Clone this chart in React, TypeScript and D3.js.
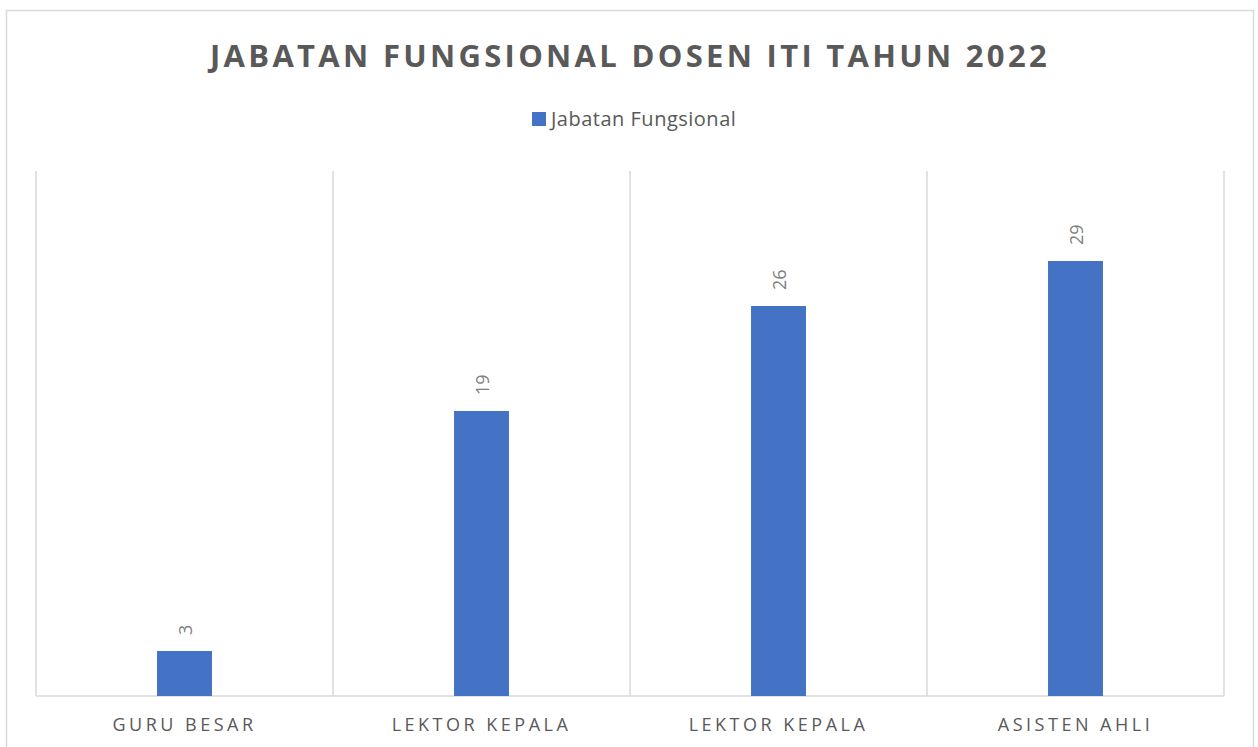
import React, {useEffect, useRef} from 'react'
import * as d3 from 'd3'

const categories = ['GURU BESAR', 'LEKTOR KEPALA', 'LEKTOR KEPALA', 'ASISTEN AHLI']
const values = [3, 19, 26, 29]
const seriesName = 'Jabatan Fungsional'
const chartTitle = 'JABATAN FUNGSIONAL DOSEN ITI TAHUN 2022'
const yMax = 35

const App = () => {
  const ref = useRef<SVGSVGElement>(null)

  useEffect(() => {
    const width = 1258
    const height = 747
    const margin = {top: 171, right: 34, bottom: 51, left: 36}
    const font = '"Open Sans", "Noto Sans", sans-serif'
    const barColor = '#4472C4'
    const gridColor = '#d9d9d9'

    const svg = d3.select(ref.current)
      .attr('width', width)
      .attr('height', height)
      .attr('viewBox', [0, 0, width, height])
      .attr('font-family', font)
    svg.selectAll('*').remove()

    // chart frame
    svg.append('rect')
      .attr('x', 6.5).attr('y', 10.5)
      .attr('width', 1247).attr('height', 760)
      .attr('fill', '#fff')
      .attr('stroke', gridColor)
      .attr('stroke-width', 1.5)

    const x = d3.scaleBand<number>()
      .domain(d3.range(categories.length))
      .range([margin.left, width - margin.right])
      .padding(0)

    const y = d3.scaleLinear()
      .domain([0, yMax])
      .range([height - margin.bottom, margin.top])

    const barW = x.bandwidth() * 0.185

    // vertical gridlines at category boundaries
    const bounds = d3.range(categories.length + 1).map(i => margin.left + i * x.bandwidth())
    svg.append('g')
      .selectAll('line')
      .data(bounds)
      .join('line')
      .attr('x1', d => d).attr('x2', d => d)
      .attr('y1', y(yMax)).attr('y2', y(0))
      .attr('stroke', gridColor)
      .attr('stroke-width', 1.5)

    svg.append('line')
      .attr('x1', margin.left).attr('x2', width - margin.right)
      .attr('y1', y(0)).attr('y2', y(0))
      .attr('stroke', gridColor)
      .attr('stroke-width', 1.5)

    const bar = svg.append('g')
      .selectAll('g')
      .data(values)
      .join('g')

    bar.append('rect')
      .attr('x', (d, i) => x(i)! + x.bandwidth() / 2 - barW / 2)
      .attr('y', d => y(d))
      .attr('width', barW)
      .attr('height', d => y(0) - y(d))
      .attr('fill', barColor)

    bar.append('text')
      .attr('transform', (d, i) => `translate(${x(i)! + x.bandwidth() / 2},${y(d) - 16}) rotate(-90)`)
      .attr('dominant-baseline', 'central')
      .attr('text-anchor', 'start')
      .attr('font-size', 18)
      .attr('fill', '#808080')
      .text(d => d)

    // category labels
    svg.append('g')
      .selectAll('text')
      .data(categories)
      .join('text')
      .attr('x', (d, i) => x(i)! + x.bandwidth() / 2)
      .attr('y', 731)
      .attr('text-anchor', 'middle')
      .attr('font-size', 18)
      .attr('letter-spacing', 3.5)
      .attr('fill', '#595959')
      .text(d => d)

    svg.append('text')
      .attr('x', 630)
      .attr('y', 67)
      .attr('text-anchor', 'middle')
      .attr('font-size', 31)
      .attr('font-weight', 'bold')
      .attr('letter-spacing', 3.3)
      .attr('fill', '#595959')
      .text(chartTitle)

    // legend
    const legend = svg.append('g').attr('transform', 'translate(532,112)')
    legend.append('rect')
      .attr('width', 14).attr('height', 14)
      .attr('fill', barColor)
    legend.append('text')
      .attr('x', 19).attr('y', 14)
      .attr('font-size', 20)
      .attr('letter-spacing', 0.5)
      .attr('fill', '#595959')
      .text(seriesName)
  }, [])

  return <svg ref={ref} style={{position: 'absolute', left: 0, top: 0}} />
}

export default App
